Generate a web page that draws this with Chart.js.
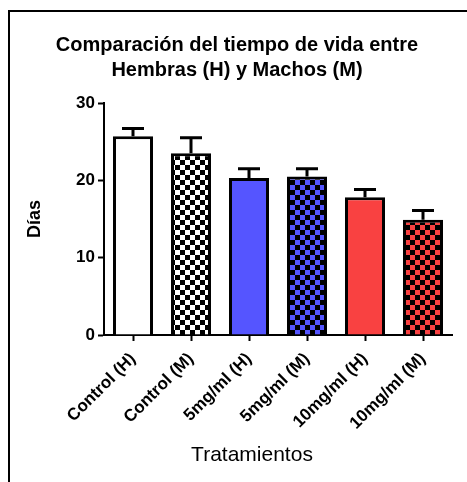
<!DOCTYPE html>
<html>
<head>
<meta charset="utf-8">
<script src="https://cdn.jsdelivr.net/npm/chart.js@4"></script>
<style>
  html, body { margin: 0; padding: 0; background: #fff; }
  #wrap { width: 467px; height: 482px; position: relative; }
</style>
</head>
<body>
<div id="wrap"><canvas id="c" width="467" height="482"></canvas></div>
<script>
// Lifespan per treatment group (days): mean and standard error
const categories = ['Control (H)', 'Control (M)', '5mg/ml (H)', '5mg/ml (M)', '10mg/ml (H)', '10mg/ml (M)'];
const meanDays = [25.7, 23.5, 20.3, 20.5, 17.8, 14.9];
const semDays = [1.0, 2.0, 1.2, 1.0, 1.0, 1.2];
const yTicks = [0, 10, 20, 30];

const FONT = '"Liberation Sans", Arial, Helvetica, sans-serif';
Chart.defaults.font.family = FONT;
Chart.defaults.color = '#000';

// Checkerboard fill: black squares over a base colour
function checker(base) {
  const t = document.createElement('canvas');
  t.width = 10; t.height = 10;
  const g = t.getContext('2d');
  g.fillStyle = base; g.fillRect(0, 0, 10, 10);
  g.fillStyle = '#000';
  g.fillRect(0, 0, 5, 5);
  g.fillRect(5, 5, 5, 5);
  return document.getElementById('c').getContext('2d').createPattern(t, 'repeat');
}

const WHITE = '#ffffff', BLUE = '#5555ff', RED = '#f94141';
const fills = [WHITE, checker(WHITE), BLUE, checker(BLUE), RED, checker(RED)];

// Upper-only error bars (mean + SEM) with a cap
const errorBars = {
  id: 'errorBars',
  afterDatasetsDraw(chart) {
    const { ctx } = chart;
    const y = chart.scales.y;
    const meta = chart.getDatasetMeta(0);
    ctx.save();
    ctx.strokeStyle = '#000';
    ctx.lineWidth = 3;
    meta.data.forEach((bar, i) => {
      const top = y.getPixelForValue(meanDays[i] + semDays[i]);
      ctx.beginPath();
      ctx.moveTo(bar.x, bar.y);
      ctx.lineTo(bar.x, top);
      ctx.moveTo(bar.x - 11, top);
      ctx.lineTo(bar.x + 11, top);
      ctx.stroke();
    });
    ctx.restore();
  }
};

// Frame lines along the top and left of the figure, plus the x-axis caption
const frame = {
  id: 'frame',
  beforeDraw(chart) {
    const { ctx } = chart;
    ctx.save();
    ctx.fillStyle = '#000';
    ctx.fillRect(8, 10, 2, 472);
    ctx.fillRect(8, 10, 459, 2);
    ctx.restore();
  },
  afterDraw(chart) {
    const { ctx } = chart;
    ctx.save();
    ctx.fillStyle = '#000';
    ctx.font = '21px ' + FONT;
    ctx.textAlign = 'center';
    ctx.textBaseline = 'middle';
    ctx.fillText('Tratamientos', 252, 455);
    ctx.restore();
  }
};

new Chart(document.getElementById('c'), {
  type: 'bar',
  data: {
    labels: categories,
    datasets: [{
      data: meanDays,
      backgroundColor: fills,
      borderColor: '#000',
      borderWidth: 3,
      barPercentage: 0.69,
      categoryPercentage: 1
    }]
  },
  options: {
    responsive: false,
    animation: false,
    devicePixelRatio: 1,
    layout: { padding: { left: 22, right: 15, top: 12, bottom: 0 } },
    plugins: {
      legend: { display: false },
      tooltip: { enabled: false },
      title: {
        display: true,
        text: ['Comparación del tiempo de vida entre', 'Hembras (H) y Machos (M)'],
        color: '#000',
        font: { size: 20, weight: 'bold', lineHeight: 1.25 },
        padding: { top: 20.5, bottom: 20.5 }
      }
    },
    scales: {
      x: {
        offset: true,
        grid: { drawOnChartArea: false, offset: false, tickLength: 6, tickWidth: 2, tickColor: '#000' },
        border: { color: '#000', width: 2 },
        ticks: { color: '#000', font: { size: 17, weight: 'bold' }, minRotation: 45, maxRotation: 45, padding: 8 },
        afterFit(s) { s.height = 147; }
      },
      y: {
        min: 0,
        max: 30,
        afterBuildTicks(s) { s.ticks = yTicks.map(v => ({ value: v })); },
        grid: { drawOnChartArea: false, tickLength: 6, tickWidth: 2, tickColor: '#000' },
        border: { color: '#000', width: 2 },
        ticks: { color: '#000', font: { size: 17, weight: 'bold' }, padding: 3 },
        title: {
          display: true,
          text: 'Días',
          color: '#000',
          font: { size: 18, weight: 'bold' },
          padding: { top: 2.5, bottom: 0 }
        },
        afterFit(s) { s.width = 82; }
      }
    }
  },
  plugins: [frame, errorBars]
});
</script>
</body>
</html>
